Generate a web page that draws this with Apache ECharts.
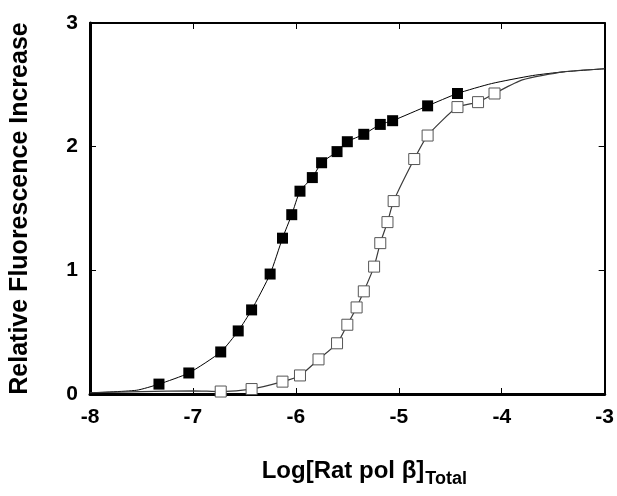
<!DOCTYPE html>
<html>
<head>
<meta charset="utf-8">
<script src="https://cdn.jsdelivr.net/npm/echarts@6/dist/echarts.min.js"></script>
<style>
html,body{margin:0;padding:0;background:#fff;}
#chart{width:617px;height:496px;}
</style>
</head>
<body>
<div id="chart"></div>
<script>
// Filled squares
var filledX = [-7.33, -7.04, -6.73, -6.56, -6.43, -6.25, -6.13, -6.04, -5.96, -5.84, -5.75, -5.60, -5.50, -5.34, -5.18, -5.06, -4.72, -4.43];
var filledY = [0.08, 0.17, 0.34, 0.51, 0.68, 0.97, 1.26, 1.45, 1.64, 1.75, 1.87, 1.96, 2.04, 2.10, 2.18, 2.21, 2.33, 2.43];
// Open squares
var openX = [-6.73, -6.43, -6.13, -5.96, -5.78, -5.60, -5.50, -5.41, -5.34, -5.24, -5.18, -5.11, -5.05, -4.85, -4.72, -4.43, -4.23, -4.07];
var openY = [0.02, 0.04, 0.10, 0.15, 0.28, 0.41, 0.56, 0.70, 0.83, 1.03, 1.22, 1.39, 1.56, 1.90, 2.09, 2.32, 2.36, 2.43];
// Fit curve extensions beyond the measured points
var filledLead = [[-8, 0.01], [-7.55, 0.03]];
var filledTail = [[-4.1, 2.51], [-3.7, 2.575], [-3.4, 2.605], [-3, 2.63]];
var openLead = [[-8, 0.01], [-7.5, 0.02], [-7.0, 0.025]];
var openTail = [[-3.8, 2.54], [-3.4, 2.605], [-3, 2.63]];
var xTicks = [-8, -7, -6, -5, -4, -3];
var yTicks = [0, 1, 2, 3];

function pairs(xs, ys) { return xs.map(function (x, i) { return [x, ys[i]]; }); }
var filledPts = pairs(filledX, filledY);
var openPts = pairs(openX, openY);
var filledFit = filledLead.concat(filledPts, filledTail);
var openFit = openLead.concat(openPts, openTail);

var FONT = 'Liberation Sans, Arial, Helvetica, sans-serif';
var chart = echarts.init(document.getElementById('chart'), null, {renderer: 'canvas'});
var labelStyle = {fontSize: 21, fontWeight: 'bold', color: '#000', fontFamily: FONT};
chart.setOption({
  animation: false,
  backgroundColor: '#fff',
  grid: {left: 90, right: 10, top: 23, bottom: 102, containLabel: false},
  xAxis: [{
    type: 'value', position: 'bottom', min: xTicks[0], max: xTicks[xTicks.length - 1], interval: 1,
    axisLine: {show: true, onZero: false, lineStyle: {color: '#000', width: 3}},
    axisTick: {show: true, inside: true, length: 6, lineStyle: {color: '#000', width: 1}},
    axisLabel: Object.assign({margin: 13}, labelStyle),
    splitLine: {show: false},
    name: '{a|Log[Rat pol β]}{b|Total}',
    nameLocation: 'middle', nameGap: 61,
    nameTextStyle: {
      padding: [0, 0, 0, 34],
      rich: {
        a: {fontSize: 24, fontWeight: 'bold', color: '#000', fontFamily: FONT, lineHeight: 32},
        b: {fontSize: 18, fontWeight: 'bold', color: '#000', fontFamily: FONT, padding: [16, 0, 0, 1], lineHeight: 32}
      }
    }
  }, {
    type: 'value', position: 'top', min: xTicks[0], max: xTicks[xTicks.length - 1], interval: 1,
    axisLine: {show: true, onZero: false, lineStyle: {color: '#000', width: 2}},
    axisTick: {show: true, inside: true, length: 6, lineStyle: {color: '#000', width: 1}},
    axisLabel: {show: false}, splitLine: {show: false}
  }],
  yAxis: [{
    type: 'value', position: 'left', min: yTicks[0], max: yTicks[yTicks.length - 1], interval: 1,
    axisLine: {show: true, onZero: false, lineStyle: {color: '#000', width: 3}},
    axisTick: {show: true, inside: true, length: 6, lineStyle: {color: '#000', width: 1}},
    axisLabel: Object.assign({margin: 12}, labelStyle),
    splitLine: {show: false},
    name: 'Relative Fluorescence Increase',
    nameLocation: 'middle', nameGap: 57, nameRotate: 90,
    nameTextStyle: {fontSize: 25, fontWeight: 'bold', color: '#000', fontFamily: FONT}
  }, {
    type: 'value', position: 'right', min: yTicks[0], max: yTicks[yTicks.length - 1], interval: 1,
    axisLine: {show: true, onZero: false, lineStyle: {color: '#000', width: 2}},
    axisTick: {show: true, inside: true, length: 6, lineStyle: {color: '#000', width: 1}},
    axisLabel: {show: false}, splitLine: {show: false}
  }],
  series: [
    {type: 'line', data: filledFit, showSymbol: false, smooth: 0.2, lineStyle: {color: '#000', width: 1}, z: 2},
    {type: 'line', data: openFit, showSymbol: false, smooth: 0.2, lineStyle: {color: '#3a3a3a', width: 1.2}, z: 2},
    {type: 'scatter', data: openPts, symbol: 'rect', symbolSize: 11,
      itemStyle: {color: '#fff', borderColor: '#555', borderWidth: 1, opacity: 1}, z: 3},
    {type: 'scatter', data: filledPts, symbol: 'rect', symbolSize: 11,
      itemStyle: {color: '#000', opacity: 1}, z: 4}
  ]
});
</script>
</body>
</html>
